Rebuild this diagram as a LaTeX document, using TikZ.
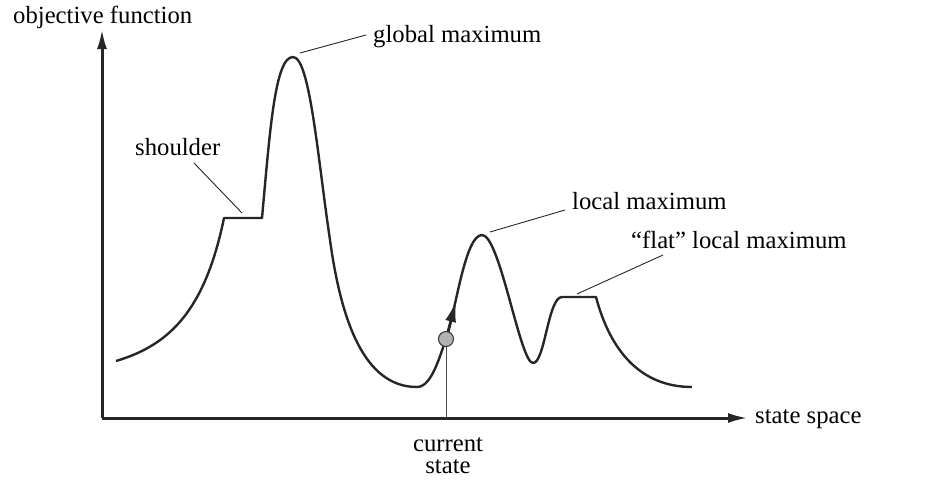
\documentclass[tikz,border=0pt]{standalone}
\usepackage{fontspec}
\setmainfont{Liberation Serif}
\usetikzlibrary{arrows.meta}

\begin{document}
\begin{tikzpicture}[x=1pt,y=-1pt,font=\fontsize{24.7}{24}\selectfont]
        %
        % `axis' is used for the two axes.
        % `landscape' is used for the objective function curve.
        % `leader' is used for the thin lines to the labels.
        \tikzstyle{axis} = [line width=3pt,draw=black!85,-{Latex[length=20pt,width=10pt]}]
        \tikzstyle{landscape} = [line width=2.4pt,draw=black!85,line join=round]
        \tikzstyle{leader} = [line width=0.9pt,draw=black!85]
        \tikzstyle{tag} = [inner sep=0pt,anchor=base west]
        \tikzstyle{state} = [draw=black!80,fill=black!30,circle,minimum size=15pt,inner sep=0pt,line width=1pt]
        %
        \useasboundingbox (0,0) rectangle (927,496);
        %
        % Axes
        \coordinate (origin) at (102,418);
        \coordinate (ytop) at (102,29);
        \coordinate (xend) at (748,418);
        \draw[axis] (origin) -- (ytop);
        \draw[axis] (origin) -- (xend);
        \node[tag] (ylabel) at (13,23) {objective function};
        \node[tag] (xlabel) at (755,423) {state space};
        %
        % Landscape
        \draw[landscape] (116,361) .. controls (170,345) and (205,310) .. (224,218)
            -- (262,218)
            .. controls (270,130) and (275,57) .. (293,57)
            .. controls (310,57) and (318,160) .. (330,240)
            .. controls (343,335) and (370,387) .. (417,387)
            .. controls (432,387) and (440,355) .. (446,339)
            .. controls (456,310) and (465,235) .. (482,235)
            .. controls (500,235) and (520,363) .. (533,363)
            .. controls (545,363) and (548,297) .. (562,297)
            -- (596,297)
            .. controls (610,350) and (640,387) .. (692,387);
        %
        % Current state
        \node[state] (current) at (446,339) {};
        \coordinate (uphill) at (456,301);
        \coordinate (foot) at (446,418);
        \draw[line width=1pt,draw=black!70] (current) -- (foot);
        \draw[line width=2.6pt,draw=black!85,-{Latex[length=21pt,width=11pt]}] (current) -- (uphill);
        \node[align=center,inner sep=0pt,anchor=base] (curlabel) at (448,473) {current\\[-2pt]state};
        %
        % Global maximum
        \node[tag] (gmaxlabel) at (373,42) {global maximum};
        \coordinate (gmax) at (300,53);
        \coordinate (gmaxend) at (366,35);
        \draw[leader] (gmax) -- (gmaxend);
        %
        % Shoulder
        \node[tag] (shlabel) at (135,155) {shoulder};
        \coordinate (sh) at (242,213);
        \coordinate (shend) at (194,163);
        \draw[leader] (sh) -- (shend);
        %
        % Local maximum
        \node[tag] (lmaxlabel) at (572,209) {local maximum};
        \coordinate (lmax) at (490,232);
        \coordinate (lmaxend) at (565,210);
        \draw[leader] (lmax) -- (lmaxend);
        %
        % Flat local maximum
        \node[tag] (flatlabel) at (631,248) {``flat'' local maximum};
        \coordinate (flat) at (577,294);
        \coordinate (flatend) at (663,255);
        \draw[leader] (flat) -- (flatend);
        %
\end{tikzpicture}
\end{document}
